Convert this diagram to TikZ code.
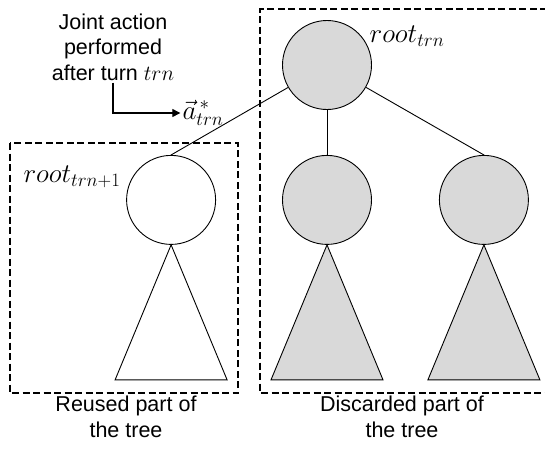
\RequirePackage{fix-cm}
\documentclass[tikz,border=0pt]{standalone}
\usepackage{amsmath}
\usepackage{fontspec}
\setmainfont{Liberation Sans}
\usepackage{tikz}
\usetikzlibrary{
    positioning,
    arrows.meta,
    calc
}
\definecolor{subtreegray}{RGB}{217,217,217}
\tikzset{
    treenode/.style={
        circle, draw, line width=0.9pt,
        minimum size=89pt, inner sep=0pt
    },
    droppednode/.style={
        treenode, fill=subtreegray
    },
    keptnode/.style={
        treenode, fill=white
    },
    subtree/.style={
        draw, line width=0.9pt, line join=miter
    },
    edge/.style={
        draw, line width=0.9pt
    },
    partbox/.style={
        draw, line width=1.6pt, dash pattern=on 7pt off 3.5pt
    },
    textlbl/.style={
        align=center, font=\fontsize{21.5}{25.5}\selectfont, inner sep=2pt
    },
    mathlbl/.style={
        font=\fontsize{27}{30}\selectfont, inner sep=2pt
    }
}

\begin{document}
\begin{tikzpicture}[
        x=1pt, y=-1pt,
        node distance=45pt and 66pt,
        actarrow/.style={-{Triangle[length=8pt,width=8pt]}, line width=1.2pt}
    ]
    \useasboundingbox (0,0) rectangle (545,450);

    % TREE NODES
    \node[droppednode] (root) at (327,65) {};
    \node[droppednode, below=of root] (disc1) {};
    \node[keptnode, left=66pt of disc1] (reused) {};
    \node[droppednode, right=67pt of disc1] (disc2) {};

    % Subtrees
    \draw[subtree, fill=white] (reused.south) -- ++(-56,135) -- ++(112,0) -- cycle;
    \draw[subtree, fill=subtreegray] (disc1.south) -- ++(-56,135) -- ++(112,0) -- cycle;
    \draw[subtree, fill=subtreegray] (disc2.south) -- ++(-56,135) -- ++(112,0) -- cycle;

    % Edges
    \draw[edge] (root) -- (reused.north);
    \draw[edge] (root) -- (disc1);
    \draw[edge] (root) -- (disc2.north);

    % LABELS
    \node[mathlbl] (rootlbl) at (407,36) {$root_{trn}$};
    \node[mathlbl] (nextlbl) at (72,177) {$root_{trn+1}$};
    \node[mathlbl] (action) at (203,113) {$\vec{a}^{\,*}_{trn}$};
    \node[textlbl] (joint) at (113,47) {Joint action\\performed\\after turn $trn$};
    \draw[actarrow] (joint.south) |- (action.west);

    % Parts of the tree
    \draw[partbox] (10,143) rectangle (238,393);
    \draw[partbox] (547,9) -- (260,9) -- (260,393) -- (547,393);
    \node[textlbl] (reusedlbl) at (126,417) {Reused part of\\the tree};
    \node[textlbl] (discardlbl) at (402,417) {Discarded part of\\the tree};

\end{tikzpicture}
\end{document}
